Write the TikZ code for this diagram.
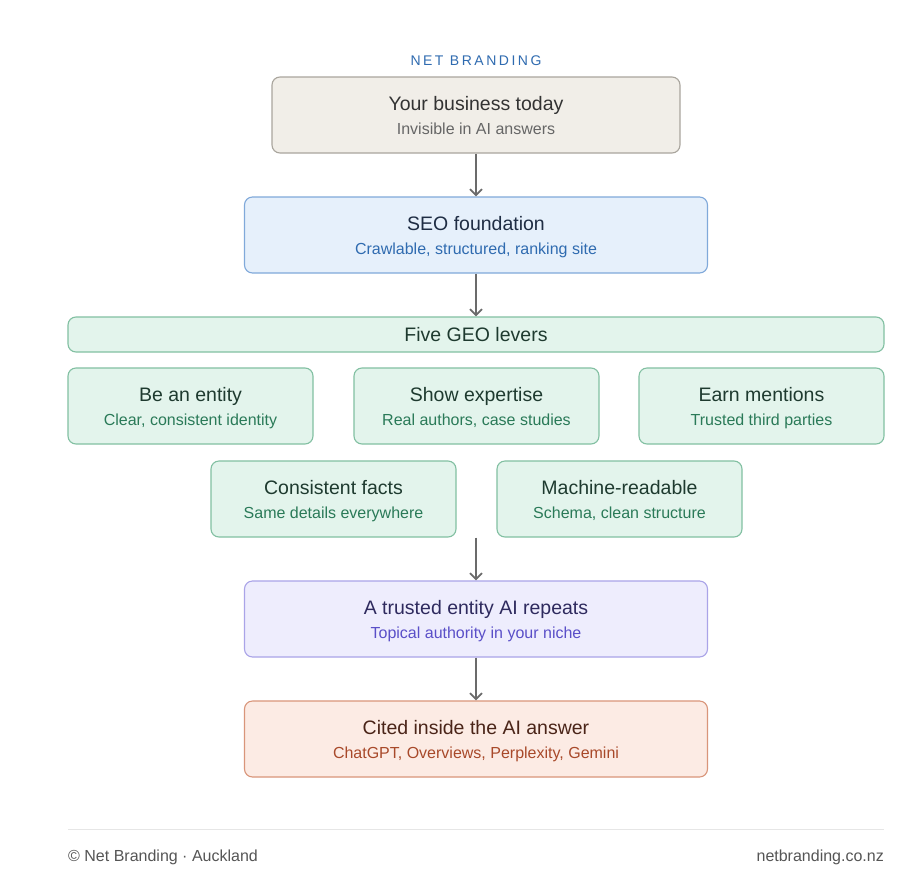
\documentclass[tikz,border=0pt]{standalone}
\usepackage{fontspec}
\setmainfont{Liberation Sans}
\usetikzlibrary{arrows.meta}

\definecolor{brandblue}{HTML}{2F6BB0}
\definecolor{todayfill}{HTML}{F1EEE8}
\definecolor{todayline}{HTML}{A9A59D}
\definecolor{todaytitle}{HTML}{333333}
\definecolor{todaysub}{HTML}{666666}
\definecolor{seofill}{HTML}{E6F0FB}
\definecolor{seoline}{HTML}{80A9DA}
\definecolor{seotitle}{HTML}{1F2D44}
\definecolor{seosub}{HTML}{2F6BB0}
\definecolor{geofill}{HTML}{E3F4EC}
\definecolor{geoline}{HTML}{82C0A2}
\definecolor{geotitle}{HTML}{1E3A2F}
\definecolor{geosub}{HTML}{2A7A58}
\definecolor{trustfill}{HTML}{EEEDFD}
\definecolor{trustline}{HTML}{AAA4E8}
\definecolor{trusttitle}{HTML}{2E2A5E}
\definecolor{trustsub}{HTML}{5A4FC8}
\definecolor{citefill}{HTML}{FCEBE4}
\definecolor{citeline}{HTML}{D9957A}
\definecolor{citetitle}{HTML}{4A2418}
\definecolor{citesub}{HTML}{A8492A}
\definecolor{arrowgray}{HTML}{6B6B6B}
\definecolor{rulegray}{HTML}{E6E6E6}
\definecolor{footgray}{HTML}{555555}

\tikzset{
  card/.style={rounded corners=8pt, line width=1.1pt, minimum height=76pt,
    align=center, font=\fontsize{19.5}{20}\selectfont},
  widecard/.style={card, minimum width=463pt},
  lever/.style={card, minimum width=245pt, fill=geofill, draw=geoline, text=geotitle},
  flow/.style={-{Straight Barb[length=6pt,width=12pt]}, line width=1.8pt, draw=arrowgray},
  foot/.style={font=\fontsize{16}{16}\selectfont, text=footgray, inner sep=0pt}
}
\newcommand{\cardtext}[3]{\rule{0pt}{19pt}#1\vphantom{Apy}\\[4pt]{\color{#2}\fontsize{16}{16}\selectfont #3\vphantom{Apy,}}}

\begin{document}
\begin{tikzpicture}[x=1pt,y=-1pt]
\useasboundingbox[fill=white] (0,0) rectangle (923,889);

\node[text=brandblue, font=\fontsize{14}{14}\selectfont\addfontfeature{LetterSpace=18}] (brand) at (476,61) {NET BRANDING};

\node[widecard, minimum width=408pt, fill=todayfill, draw=todayline, text=todaytitle] (today) at (476,115)
  {\cardtext{Your business today}{todaysub}{Invisible in AI answers}};
\node[widecard, fill=seofill, draw=seoline, text=seotitle] (seo) at (476,235)
  {\cardtext{SEO foundation}{seosub}{Crawlable, structured, ranking site}};

\node[card, minimum width=816pt, minimum height=35pt, fill=geofill, draw=geoline, text=geotitle] (levers) at (476,334.5) {Five GEO levers};
\node[lever] (entity) at (190.5,406) {\cardtext{Be an entity}{geosub}{Clear, consistent identity}};
\node[lever] (expertise) at (476.5,406) {\cardtext{Show expertise}{geosub}{Real authors, case studies}};
\node[lever] (mentions) at (761.5,406) {\cardtext{Earn mentions}{geosub}{Trusted third parties}};
\node[lever] (facts) at (333.5,499) {\cardtext{Consistent facts}{geosub}{Same details everywhere}};
\node[lever] (readable) at (619.5,499) {\cardtext{Machine-readable}{geosub}{Schema, clean structure}};

\node[widecard, fill=trustfill, draw=trustline, text=trusttitle] (trust) at (476,619)
  {\cardtext{A trusted entity AI repeats}{trustsub}{Topical authority in your niche}};
\node[widecard, fill=citefill, draw=citeline, text=citetitle] (cited) at (476,739)
  {\cardtext{Cited inside the AI answer}{citesub}{ChatGPT, Overviews, Perplexity, Gemini}};

% connectors
\draw[flow] (today) -- (seo);
\draw[flow] (seo) -- (seo |- levers.north);
\coordinate (leversend) at (trust.north |- facts.south);
\draw[flow] (leversend) -- (trust);
\draw[flow] (trust) -- (cited);

% footer
\coordinate (ruleleft) at (68,829);
\coordinate (ruleright) at (884,829);
\draw[rulegray, line width=1pt] (ruleleft) -- (ruleright);
\node[foot, anchor=west] (copy) at (68,857) {© Net Branding · Auckland};
\node[foot, anchor=east] (site) at (884,857) {netbranding.co.nz};
\end{tikzpicture}
\end{document}
